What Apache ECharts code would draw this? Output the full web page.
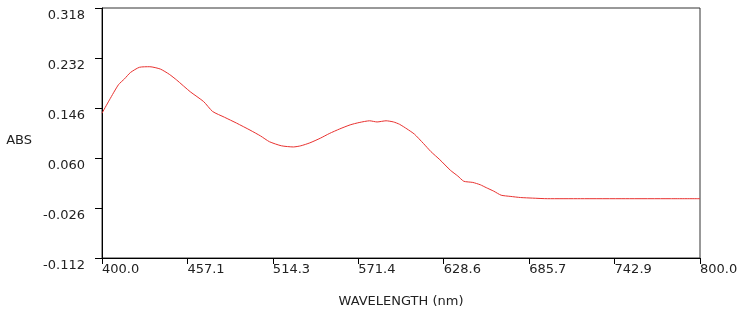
<!DOCTYPE html>
<html>
<head>
<meta charset="utf-8">
<script src="https://cdn.jsdelivr.net/npm/echarts@6/dist/echarts.min.js"></script>
<style>
  html, body { margin: 0; padding: 0; background: #fff; }
  #main { width: 743px; height: 314px; }
</style>
</head>
<body>
<div id="main"></div>
<script>
// wavelength (nm) and absorbance
const wavelengths = [400, 405, 411, 415, 419, 425, 432, 439, 445, 450, 459, 468, 474, 482, 490, 499, 506, 512, 520, 528, 533, 539, 546, 552, 559, 566, 572, 579, 584, 590, 595, 599, 604, 609, 615, 620, 626, 633, 638, 642, 648, 653, 657, 662, 667, 673, 680, 688, 698, 720, 750, 780, 800]
const absValues = [0.137, 0.160, 0.186, 0.196, 0.207, 0.216, 0.217, 0.213, 0.204, 0.194, 0.174, 0.157, 0.140, 0.130, 0.120, 0.108, 0.098, 0.088, 0.081, 0.079, 0.081, 0.086, 0.094, 0.102, 0.110, 0.117, 0.121, 0.124, 0.122, 0.124, 0.122, 0.118, 0.110, 0.101, 0.085, 0.071, 0.057, 0.039, 0.029, 0.020, 0.018, 0.014, 0.009, 0.003, -0.004, -0.006, -0.008, -0.009, -0.010, -0.010, -0.010, -0.010, -0.010]

const xMin = 400, xMax = 800, xStep = 400 / 7
const yMin = -0.112, yMax = 0.318, yStep = 0.086

const seriesData = wavelengths.map((w, i) => [w, absValues[i]])

const font = 'DejaVu Sans'

const option = {
    animation: false,
    grid: {
        left: 102,
        right: 43,
        top: 8,
        bottom: 56,
        show: true,
        borderColor: '#333',
        borderWidth: 1
    },
    xAxis: {
        type: 'value',
        min: xMin,
        max: xMax,
        interval: xStep,
        name: 'WAVELENGTH (nm)',
        nameLocation: 'middle',
        nameGap: 37,
        nameTextStyle: { fontFamily: font, fontSize: 13, color: '#222' },
        axisLine: { onZero: false, lineStyle: { color: '#000' } },
        axisTick: { length: 6, lineStyle: { color: '#000' } },
        axisLabel: {
            fontFamily: font,
            fontSize: 13,
            color: '#222',
            align: 'left',
            margin: 5,
            formatter: v => v.toFixed(1)
        },
        splitLine: { show: false }
    },
    yAxis: {
        type: 'value',
        min: yMin,
        max: yMax,
        interval: yStep,
        name: 'ABS',
        nameLocation: 'middle',
        nameRotate: 0,
        nameGap: 70,
        nameTextStyle: { fontFamily: font, fontSize: 13, color: '#222', verticalAlign: 'top', padding: [1, 0, 0, 0] },
        axisLine: { show: true, onZero: false, lineStyle: { color: '#000' } },
        axisTick: { show: true, length: 7, lineStyle: { color: '#000' } },
        axisLabel: {
            fontFamily: font,
            fontSize: 13,
            color: '#222',
            margin: 17,
            verticalAlign: 'top',
            padding: [1, 0, 0, 0],
            formatter: v => v.toFixed(3)
        },
        splitLine: { show: false }
    },
    series: [{
        type: 'line',
        data: seriesData,
        showSymbol: false,
        smooth: 0.2,
        lineStyle: { color: '#e8312f', width: 1 }
    }]
}

const myChart = echarts.init(document.getElementById('main'))
myChart.setOption(option)
</script>
</body>
</html>
